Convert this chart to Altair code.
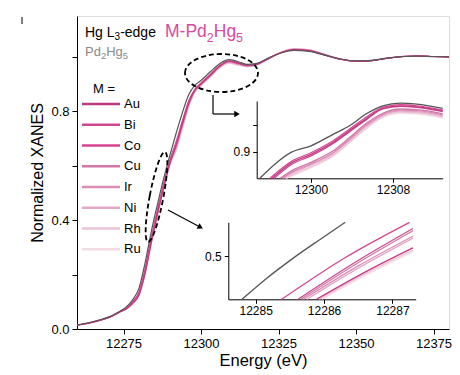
import altair as alt
import pandas as pd

# ---------------- data ----------------
m_names = ["Au", "Bi", "Co", "Cu", "Ir", "Ni", "Rh", "Ru"]
m_colors = ["#c03a83", "#c94a90", "#d6448f", "#d277a7", "#da8db7", "#e3a8c8", "#ecc2d6", "#f3dbe6"]
grey_name = "Pd2Hg5"
grey_color = "#555555"

energy = [12260, 12264, 12268, 12271, 12274, 12276, 12278, 12280, 12282, 12284, 12286, 12288,
          12290, 12292, 12294, 12296, 12298, 12300, 12303, 12306, 12309, 12312, 12315, 12318,
          12322, 12326, 12330, 12335, 12340, 12345, 12350, 12355, 12360, 12365, 12370, 12375, 12380]

pd2hg5 = [0.015, 0.024, 0.036, 0.048, 0.066, 0.082, 0.108, 0.150, 0.245, 0.360, 0.460, 0.555,
          0.640, 0.720, 0.795, 0.860, 0.895, 0.913, 0.945, 0.975, 0.990, 0.982, 0.972, 0.976,
          0.997, 1.015, 1.024, 1.020, 1.006, 0.992, 0.985, 0.987, 0.995, 1.001, 1.003, 1.001, 1.000]
au = [0.014, 0.022, 0.034, 0.046, 0.064, 0.074, 0.094, 0.124, 0.205, 0.318, 0.422, 0.520,
      0.608, 0.676, 0.754, 0.829, 0.877, 0.900, 0.932, 0.965, 0.984, 0.977, 0.968, 0.973,
      0.996, 1.016, 1.026, 1.022, 1.006, 0.991, 0.984, 0.986, 0.995, 1.001, 1.003, 1.001, 1.000]
bi = [0.014, 0.022, 0.034, 0.046, 0.064, 0.076, 0.098, 0.131, 0.215, 0.329, 0.432, 0.529,
      0.615, 0.680, 0.757, 0.831, 0.878, 0.901, 0.933, 0.966, 0.984, 0.977, 0.968, 0.973,
      0.995, 1.016, 1.027, 1.023, 1.007, 0.991, 0.984, 0.986, 0.995, 1.001, 1.003, 1.001, 1.000]
co = [0.014, 0.023, 0.035, 0.047, 0.065, 0.078, 0.101, 0.137, 0.224, 0.339, 0.441, 0.537,
      0.623, 0.690, 0.766, 0.838, 0.881, 0.904, 0.936, 0.968, 0.985, 0.978, 0.969, 0.974,
      0.996, 1.016, 1.026, 1.022, 1.006, 0.991, 0.984, 0.986, 0.995, 1.001, 1.003, 1.001, 1.000]
cu = [0.014, 0.022, 0.034, 0.046, 0.064, 0.076, 0.097, 0.129, 0.213, 0.327, 0.430, 0.527,
      0.613, 0.672, 0.750, 0.825, 0.875, 0.899, 0.931, 0.964, 0.982, 0.975, 0.967, 0.972,
      0.995, 1.017, 1.028, 1.024, 1.007, 0.991, 0.984, 0.986, 0.995, 1.001, 1.003, 1.001, 1.000]
ir = [0.014, 0.022, 0.034, 0.046, 0.063, 0.075, 0.096, 0.128, 0.211, 0.325, 0.428, 0.525,
      0.611, 0.669, 0.747, 0.823, 0.874, 0.898, 0.930, 0.963, 0.981, 0.974, 0.966, 0.972,
      0.995, 1.017, 1.028, 1.024, 1.008, 0.992, 0.984, 0.986, 0.995, 1.001, 1.003, 1.001, 1.000]
ni = [0.014, 0.022, 0.034, 0.046, 0.063, 0.075, 0.096, 0.127, 0.209, 0.323, 0.426, 0.523,
      0.609, 0.664, 0.742, 0.819, 0.872, 0.896, 0.928, 0.962, 0.979, 0.972, 0.965, 0.971,
      0.995, 1.018, 1.029, 1.025, 1.008, 0.992, 0.984, 0.986, 0.995, 1.001, 1.003, 1.001, 1.000]
rh = [0.013, 0.022, 0.033, 0.045, 0.063, 0.074, 0.094, 0.124, 0.204, 0.317, 0.421, 0.519,
      0.605, 0.658, 0.737, 0.815, 0.870, 0.894, 0.926, 0.961, 0.977, 0.970, 0.964, 0.970,
      0.994, 1.018, 1.030, 1.026, 1.009, 0.992, 0.984, 0.986, 0.995, 1.002, 1.003, 1.001, 1.000]
ru = [0.013, 0.021, 0.033, 0.045, 0.062, 0.074, 0.093, 0.122, 0.201, 0.314, 0.418, 0.516,
      0.603, 0.655, 0.734, 0.813, 0.869, 0.893, 0.925, 0.960, 0.976, 0.969, 0.963, 0.970,
      0.994, 1.018, 1.030, 1.026, 1.009, 0.992, 0.984, 0.986, 0.995, 1.002, 1.003, 1.001, 1.000]

# upper inset (around the white line)
in1_grey_e = [12295.0, 12296.5, 12298.1, 12300.0, 12302.2, 12303.8, 12305.4, 12307.0, 12308.7, 12310.3, 12312.85]
in1_grey_v = [0.850, 0.877, 0.899, 0.911, 0.933, 0.949, 0.971, 0.986, 0.991, 0.989, 0.981]
in1_e = [12298.1, 12300.0, 12302.2, 12303.8, 12305.4, 12307.0, 12308.7, 12310.3, 12312.85]
in1_start = {"Au": 12296.2, "Bi": 12296.4, "Co": 12296.0, "Cu": 12297.0,
             "Ir": 12297.2, "Ni": 12297.3, "Rh": 12297.5, "Ru": 12297.6}
in1_au = [0.879, 0.895, 0.918, 0.940, 0.962, 0.981, 0.986, 0.984, 0.977]
in1_bi = [0.876, 0.892, 0.916, 0.938, 0.960, 0.980, 0.985, 0.983, 0.975]
in1_co = [0.882, 0.898, 0.921, 0.943, 0.965, 0.983, 0.988, 0.986, 0.978]
in1_cu = [0.864, 0.880, 0.902, 0.927, 0.953, 0.972, 0.980, 0.979, 0.971]
in1_ir = [0.861, 0.877, 0.899, 0.924, 0.950, 0.970, 0.978, 0.977, 0.969]
in1_ni = [0.859, 0.875, 0.897, 0.922, 0.948, 0.968, 0.976, 0.975, 0.967]
in1_rh = [0.856, 0.872, 0.894, 0.919, 0.945, 0.966, 0.974, 0.973, 0.965]
in1_ru = [0.854, 0.870, 0.892, 0.917, 0.943, 0.964, 0.972, 0.971, 0.963]

# lower inset (edge at 0.5)
in2_grey_e = [12284.80, 12285.15, 12285.53, 12285.92, 12286.31]
in2_grey_v = [0.462, 0.480, 0.4975, 0.514, 0.530]
in2_au_e = [12285.89, 12286.60, 12287.30]; in2_au_v = [0.462, 0.4860, 0.5074]
in2_bi_e = [12285.62, 12286.45, 12287.30]; in2_bi_v = [0.462, 0.4945, 0.5245]
in2_co_e = [12285.38, 12286.30, 12287.25]; in2_co_v = [0.462, 0.4985, 0.5300]
in2_cu_e = [12285.66, 12286.45, 12287.30]; in2_cu_v = [0.462, 0.4925, 0.5225]
in2_ir_e = [12285.70, 12286.50, 12287.30]; in2_ir_v = [0.462, 0.4915, 0.5177]
in2_ni_e = [12285.75, 12286.50, 12287.30]; in2_ni_v = [0.462, 0.4895, 0.5160]
in2_rh_e = [12285.93, 12286.60, 12287.30]; in2_rh_v = [0.462, 0.4845, 0.5055]
in2_ru_e = [12285.97, 12286.60, 12287.30]; in2_ru_v = [0.462, 0.4830, 0.5040]

main_ticks_x = [12275, 12300, 12325, 12350, 12375]
main_ticks_y = [0.0, 0.2, 0.4, 0.6, 0.8, 1.0]
in1_ticks_x = [12300, 12308]
in1_ticks_y = [0.9, 0.95]
in2_ticks_x = [12285, 12286, 12287]
in2_ticks_y = [0.5]

# ---------------- build tables ----------------
FONT = "Liberation Sans"
W, H = 372, 313

main_series = {"Ru": ru, "Rh": rh, "Ni": ni, "Ir": ir, "Cu": cu, "Bi": bi, "Co": co, "Au": au}
rows = []
for name, vals in main_series.items():
    for e, v in zip(energy, vals):
        rows.append({"s": name, "E": e, "v": v})
df_main = pd.DataFrame(rows)
df_main_grey = pd.DataFrame({"s": grey_name, "E": energy, "v": pd2hg5})

in1_vals = {"Ru": in1_ru, "Rh": in1_rh, "Ni": in1_ni, "Ir": in1_ir, "Cu": in1_cu,
            "Bi": in1_bi, "Au": in1_au, "Co": in1_co}
rows = []
for name, vals in in1_vals.items():
    rows.append({"s": name, "E": in1_start[name], "v": 0.85})
    for e, v in zip(in1_e, vals):
        rows.append({"s": name, "E": e, "v": v})
for e, v in zip(in1_grey_e, in1_grey_v):
    rows.append({"s": grey_name, "E": e, "v": v})
df_in1 = pd.DataFrame(rows)

in2_sets = [("Ru", in2_ru_e, in2_ru_v), ("Rh", in2_rh_e, in2_rh_v), ("Ni", in2_ni_e, in2_ni_v),
            ("Ir", in2_ir_e, in2_ir_v), ("Cu", in2_cu_e, in2_cu_v), ("Bi", in2_bi_e, in2_bi_v),
            ("Au", in2_au_e, in2_au_v), ("Co", in2_co_e, in2_co_v), (grey_name, in2_grey_e, in2_grey_v)]
rows = []
for name, es, vs in in2_sets:
    for e, v in zip(es, vs):
        rows.append({"s": name, "E": e, "v": v})
df_in2 = pd.DataFrame(rows)

color_scale = alt.Scale(domain=m_names + [grey_name], range=m_colors + [grey_color])
color = alt.Color("s:N", scale=color_scale, legend=None)

ax_common = dict(grid=False, domainColor="black", tickColor="black", labelColor="black",
                 labelFont=FONT, titleFont=FONT, titleColor="black", titleFontWeight="normal")

x_main = alt.X("E:Q", scale=alt.Scale(domain=[12260, 12380], nice=False, zero=False),
               axis=alt.Axis(values=main_ticks_x, format="d", tickSize=5, labelPadding=3,
                             labelFontSize=13, title="Energy (eV)", titleFontSize=16.5,
                             titlePadding=2, labelFlush=False, **ax_common))
y_main = alt.Y("v:Q", scale=alt.Scale(domain=[0, 1.15], nice=False, zero=False),
               axis=alt.Axis(values=main_ticks_y, tickSize=5, labelPadding=3, labelFontSize=13,
                             labelExpr="(datum.value == 0 || datum.value == 0.4 || datum.value == 0.8) ? format(datum.value, '.1f') : ''",
                             title="Normalized XANES", titleFontSize=16, titlePadding=5, **ax_common))

main_pink = alt.Chart(df_main).mark_line(strokeWidth=1.1, interpolate="monotone").encode(
    x=x_main, y=y_main, color=color)
main_grey = alt.Chart(df_main_grey).mark_line(strokeWidth=1.2, interpolate="monotone").encode(
    x=x_main, y=y_main, color=color)
main = alt.layer(main_pink, main_grey)

in1 = alt.Chart(df_in1).mark_line(strokeWidth=1.3, interpolate="monotone").encode(
    x=alt.X("E:Q", scale=alt.Scale(domain=[12294.7, 12312.85], range=[179.7, 365.7], nice=False, zero=False),
            axis=alt.Axis(orient="bottom", offset=-(H - 162.3), values=in1_ticks_x, format="d",
                          tickSize=4, labelPadding=2, labelFontSize=12, title=None, labelFlush=False, **ax_common)),
    y=alt.Y("v:Q", scale=alt.Scale(domain=[0.85, 0.995], range=[162.3, 85], nice=False, zero=False),
            axis=alt.Axis(orient="left", offset=-179.7, values=in1_ticks_y, tickSize=4, labelPadding=3,
                          labelFontSize=12, labelExpr="datum.value == 0.9 ? '0.9' : ''",
                          title=None, **ax_common)),
    color=color,
)

in2 = alt.Chart(df_in2).mark_line(strokeWidth=1.3, interpolate="monotone").encode(
    x=alt.X("E:Q", scale=alt.Scale(domain=[12284.6, 12287.34], range=[151.3, 338.7], nice=False, zero=False),
            axis=alt.Axis(orient="bottom", offset=-(H - 283.3), values=in2_ticks_x, format="d",
                          tickSize=4, labelPadding=2, labelFontSize=12, title=None, labelFlush=False, **ax_common)),
    y=alt.Y("v:Q", scale=alt.Scale(domain=[0.462, 0.530], range=[283.3, 206.3], nice=False, zero=False),
            axis=alt.Axis(orient="left", offset=-151.3, values=in2_ticks_y, format=".1f", tickSize=4,
                          labelPadding=3, labelFontSize=12, title=None, **ax_common)),
    color=color,
)

# legend built from marks
df_leg = pd.DataFrame({"s": m_names})
leg_y = alt.Y("s:N", scale=alt.Scale(type="point", domain=m_names, range=[88, 233.3], padding=0), axis=None)
leg_lines = alt.Chart(df_leg).mark_rule(strokeWidth=2.5).encode(
    x=alt.value(5), x2=alt.value(43), y=leg_y, color=color)
leg_text = alt.Chart(df_leg).mark_text(align="left", baseline="middle", fontSize=13, font=FONT,
                                       color="black").encode(x=alt.value(47), y=leg_y, text="s:N")
leg_title = alt.Chart(pd.DataFrame({"t": ["M ="]})).mark_text(
    align="center", baseline="middle", fontSize=13, font=FONT, color="black").encode(
    x=alt.value(27), y=alt.value(73), text="t:N")

# rich text with real subscripts (pieces laid out with Arial/Liberation advance widths)
ADV = {"M": 833, "-": 333, "P": 667, "d": 556, "H": 722, "g": 556, "L": 556, "e": 556, " ": 278,
       "2": 556, "3": 556, "5": 556}

def rich(pieces, x0, y0, col):
    layers = []
    x = x0
    for txt, size, dy in pieces:
        layers.append(alt.Chart(pd.DataFrame({"t": [txt]})).mark_text(
            align="left", baseline="alphabetic", fontSize=size, font=FONT, color=col).encode(
            x=alt.value(x), y=alt.value(y0 + dy), text="t:N"))
        x += sum(ADV.get(c, 556) for c in txt) / 1000.0 * size
    return layers

t1 = rich([("Hg L", 14, 0), ("3", 10, 3.2), ("-edge", 14, 0)], 8, 20.7, "black")
t2 = rich([("M-Pd", 17.5, 0), ("2", 12.5, 4.3), ("Hg", 17.5, 0), ("5", 12.5, 4.3)], 88, 21.3, "#d64c9c")
t3 = rich([("Pd", 13, 0), ("2", 9.5, 3.2), ("Hg", 13, 0), ("5", 9.5, 3.2)], 8, 39.5, "#8a8a8a")
t4 = alt.Chart(pd.DataFrame({"t": ["0"]})).mark_text(
    align="right", baseline="middle", fontSize=13, font=FONT, color="black").encode(
    x=alt.value(-70), y=alt.value(312), text="t:N")

# annotations: dashed ellipses + arrows
def ellipse_path(rx, ry):
    k = 0.5523
    return (f"M {-rx} 0 C {-rx} {-ry*k} {-rx*k} {-ry} 0 {-ry} "
            f"C {rx*k} {-ry} {rx} {-ry*k} {rx} 0 "
            f"C {rx} {ry*k} {rx*k} {ry} 0 {ry} "
            f"C {-rx*k} {ry} {-rx} {ry*k} {-rx} 0 Z")

one = pd.DataFrame({"a": [0]})
ell1 = alt.Chart(one).mark_point(shape=ellipse_path(1, 0.52), size=73.0 ** 2, filled=False,
                                 stroke="black", strokeWidth=1.8, strokeDash=[5, 3], opacity=1).encode(
    x=alt.value(144.5), y=alt.value(57))
ell2 = alt.Chart(one).mark_point(shape=ellipse_path(0.15, 1), size=91.6 ** 2, filled=False, angle=10.7,
                                 stroke="black", strokeWidth=1.8, strokeDash=[5, 3], opacity=1).encode(
    x=alt.value(79.5), y=alt.value(181))

arrow_segments = pd.DataFrame({"x": [136, 136, 91], "y": [79, 98, 194],
                               "x2": [136, 159, 123], "y2": [98, 98, 211]})
arrows = alt.Chart(arrow_segments).mark_rule(strokeWidth=1.2, color="black").encode(
    x=alt.X("x:Q", scale=None, axis=None), y=alt.Y("y:Q", scale=None, axis=None),
    x2="x2:Q", y2="y2:Q")
heads_df = pd.DataFrame({"x": [160, 123.5], "y": [98, 211.3], "a": [0, 28]})
heads = alt.Chart(heads_df).mark_point(shape="triangle-right", filled=True, size=40, color="black", opacity=1).encode(
    x=alt.X("x:Q", scale=None, axis=None), y=alt.Y("y:Q", scale=None, axis=None),
    angle=alt.Angle("a:Q", scale=None))
tick_df = pd.DataFrame({"x": [-55], "y": [1], "y2": [8]})
corner_tick = alt.Chart(tick_df).mark_rule(strokeWidth=1, color="black").encode(
    x=alt.X("x:Q", scale=None, axis=None), y=alt.Y("y:Q", scale=None, axis=None), y2="y2:Q")

chart = alt.layer(
    main, in1, in2, leg_lines, leg_text, leg_title, *t1, *t2, *t3, t4,
    ell1, ell2, arrows, heads, corner_tick
).resolve_scale(x="independent", y="independent").properties(
    width=W, height=H,
    autosize=alt.AutoSizeParams(type="none"),
    padding={"left": 69, "top": 8, "right": 3, "bottom": 42},
).configure_view(stroke="black", strokeWidth=1.2).configure(font=FONT)

chart.save("out.html", embed_options={"renderer": "svg", "actions": False})
